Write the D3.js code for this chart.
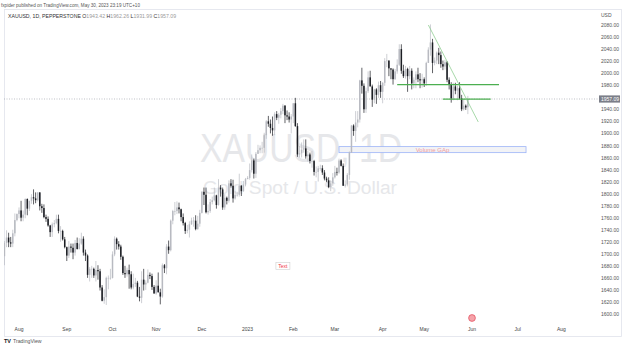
<!DOCTYPE html>
<html>
<head>
<meta charset="utf-8">
<script src="https://cdn.jsdelivr.net/npm/d3@7"></script>
<style>
  body { margin: 0; background: #fff; }
  svg { display: block; font-family: "Liberation Sans", Arial, sans-serif; }
</style>
</head>
<body>
<div id="chart"></div>
<script>
// XAUUSD daily candles, 21 Jul 2022 .. 30 May 2023 (one value per weekday)
const open = [
  1696,1718,1727,1719,1717,1734,1756,
  1766,1772,1760,1765,1791,1775,1788,1794,1792,1789,1802,1779,1776,1761,1758,1747,1736,1749,1751,1758,1738,1738,1724,
  1711,1697,1712,1710,1702,1718,1708,1717,1725,1702,1697,1665,1675,1675,1664,1673,1671,1644,1622,1628,1660,1660,
  1660,1699,1725,1716,1712,1695,1668,1666,1673,1666,1644,1650,1652,1629,1627,1657,1649,1652,1665,1663,1645,
  1634,1647,1636,1629,1681,1676,1712,1706,1755,1771,1771,1777,1774,1761,1751,1738,1740,1749,1755,1755,1741,1750,
  1768,1803,1798,1769,1771,1786,1789,1797,1781,1810,1807,1777,1793,1788,1817,1813,1792,1798,1798,1813,1804,1815,
  1824,1826,1839,1855,1833,1866,1872,1876,1876,1897,1920,1916,1909,1905,1932,1926,1931,1937,1946,1930,1928,1923,
  1928,1950,1912,1865,1867,1873,1875,1862,1865,1854,1854,1836,1836,1842,1842,1835,1825,1822,1811,1817,
  1827,1836,1835,1855,1846,1813,1815,1831,1868,1913,1904,1918,1923,1988,1979,1940,1970,1993,1978,1956,1973,1964,1980,
  1969,1984,2020,2021,2008,2006,1990,2003,2014,2040,2004,1995,2007,1995,2004,1983,1989,1998,1990,1988,
  1990,1983,2017,2039,2051,2017,2021,2034,2030,2015,2011,2018,1989,1982,1958,1978,1971,1975,1958,1940,1946,1943.42
];
const high = [
  1721,1739,1735,1728,1740,1767,1767,
  1777,1788,1772,1792,1792,1788,1799,1807,1802,1802,1802,1783,1782,1765,1762,1748,1752,1756,1765,1765,1746,1740,1728,
  1712,1721,1717,1717,1723,1727,1726,1735,1729,1707,1699,1678,1680,1677,1688,1681,1675,1648,1641,1662,1664,1675,
  1704,1729,1727,1721,1715,1697,1680,1677,1682,1671,1667,1660,1655,1645,1671,1675,1656,1674,1669,1667,1648,
  1656,1669,1642,1684,1683,1716,1722,1757,1773,1786,1787,1785,1775,1767,1753,1748,1754,1760,1761,1764,1763,1773,
  1804,1810,1810,1782,1791,1795,1810,1798,1824,1814,1810,1799,1795,1822,1824,1823,1804,1803,1833,1814,1821,1826,
  1829,1850,1865,1858,1869,1881,1880,1886,1901,1922,1929,1923,1928,1935,1937,1934,1942,1949,1947,1938,1935,1932,
  1950,1959,1917,1879,1885,1890,1890,1871,1868,1871,1856,1845,1846,1848,1847,1839,1828,1827,1822,1834,
  1846,1843,1858,1857,1850,1822,1834,1870,1914,1915,1937,1937,1989,2009,1983,1976,2003,2004,1981,1974,1975,1986,1987,
  1985,2025,2032,2021,2008,2008,2007,2023,2048,2048,2014,2012,2009,2012,2008,1993,2003,2009,2000,1999,
  1993,2019,2043,2081,2057,2026,2036,2042,2036,2021,2022,2020,1993,1985,1984,1984,1979,1985,1964,1957,1948,1962.26
];
const low = [
  1681,1711,1711,1711,1711,1729,1754,
  1759,1754,1754,1759,1764,1771,1783,1782,1784,1787,1772,1768,1759,1753,1745,1728,1728,1744,1749,1734,1720,1722,1709,
  1688,1693,1702,1691,1697,1707,1707,1715,1697,1688,1660,1654,1660,1660,1654,1657,1639,1621,1617,1615,1641,1657,
  1659,1696,1707,1707,1690,1665,1660,1662,1642,1641,1641,1645,1628,1621,1618,1639,1640,1651,1658,1640,1634,
  1632,1636,1616,1627,1668,1666,1700,1704,1749,1764,1766,1767,1754,1747,1733,1734,1727,1748,1745,1739,1740,1745,
  1767,1781,1767,1765,1768,1782,1787,1775,1780,1795,1773,1773,1782,1785,1810,1785,1790,1795,1795,1796,1803,1812,
  1824,1823,1835,1825,1826,1866,1867,1867,1868,1891,1911,1900,1896,1897,1922,1916,1925,1932,1917,1922,1918,1900,
  1917,1911,1861,1860,1860,1868,1858,1853,1850,1843,1830,1827,1820,1838,1831,1822,1819,1809,1804,1813,
  1825,1830,1833,1845,1813,1810,1812,1823,1868,1896,1886,1910,1918,1966,1934,1934,1967,1978,1944,1950,1949,1959,1959,
  1950,1979,2010,1995,1990,1981,1989,1999,2012,1999,1992,1991,1969,1990,1973,1975,1975,1985,1975,1976,
  1977,1979,2017,2029,2000,2013,2015,2015,2009,2005,2006,1985,1973,1951,1955,1965,1955,1957,1937,1938,1939,1931.99
];
const close = [
  1718,1727,1719,1717,1734,1756,1766,
  1772,1760,1765,1791,1775,1788,1794,1792,1789,1802,1779,1776,1761,1758,1747,1736,1749,1751,1758,1738,1738,1724,1711,
  1697,1712,1710,1702,1718,1708,1717,1725,1702,1697,1665,1675,1675,1664,1673,1671,1644,1622,1628,1660,1660,1660,
  1699,1725,1716,1712,1695,1668,1666,1673,1666,1644,1650,1652,1629,1627,1657,1649,1652,1665,1663,1645,1634,
  1647,1636,1629,1681,1676,1712,1706,1755,1771,1771,1777,1774,1761,1751,1738,1740,1749,1755,1755,1741,1750,1768,
  1803,1798,1769,1771,1786,1789,1797,1781,1810,1807,1777,1793,1788,1817,1813,1792,1798,1798,1813,1804,1815,1824,
  1826,1839,1855,1833,1866,1872,1876,1876,1897,1920,1916,1909,1905,1932,1926,1931,1937,1946,1930,1928,1923,1928,
  1950,1912,1865,1867,1873,1875,1862,1865,1854,1854,1836,1836,1842,1842,1835,1825,1822,1811,1817,1827,
  1836,1835,1855,1846,1813,1815,1831,1868,1913,1904,1918,1923,1988,1979,1940,1970,1993,1978,1956,1973,1964,1980,1969,
  1984,2020,2021,2008,2006,1990,2003,2014,2040,2004,1995,2007,1995,2004,1983,1989,1998,1990,1988,1990,
  1983,2017,2039,2051,2017,2021,2034,2030,2015,2011,2018,1989,1982,1958,1978,1971,1975,1958,1940,1946,1943,1957.09
];

const priceTicks = [1600,1620,1640,1660,1680,1700,1720,1740,1760,1780,1800,1820,1840,
  1860,1880,1900,1920,1940,1960,1980,2000,2020,2040,2060,2080];
const monthLabels = ['Aug','Sep','Oct','Nov','Dec','2023','Feb','Mar','Apr','May','Jun','Jul','Aug'];
const lastPrice = 1957.09;

// drawings on the chart
const levels = [
  {from: new Date(2023, 3, 12), to: new Date(2023, 5, 20), price: 1981},
  {from: new Date(2023, 4, 12), to: new Date(2023, 5, 14), price: 1957}
];
const trend = {from: new Date(2023, 4, 3), p1: 2080, to: new Date(2023, 5, 6), p2: 1919};
const gap = {from: new Date(2023, 2, 3), to: new Date(2023, 6, 7), top: 1878, bottom: 1868, label: 'Volume GAp'};
const note = {date: new Date(2023, 0, 25), price: 1680, label: 'Text'};

const W = 625, H = 347;
const plot = {left: 4, right: 598, top: 10, bottom: 322};

const svg = d3.select('#chart').append('svg')
  .attr('width', W)
  .attr('height', H);

// weekdays from first bar to the end of the time scale
const days = d3.timeDay.range(new Date(2022, 6, 21), new Date(2023, 8, 1))
  .filter(d => d.getDay() !== 0 && d.getDay() !== 6);

const step = 2.078;
const x0 = 19 - 7.5 * step; // 1 Aug 2022 bar sits under the "Aug" label
const x = d3.scaleBand()
  .domain(days)
  .range([x0, x0 + days.length * step])
  .padding(0);
const cx = d => x(d) + x.bandwidth() / 2;

const y = d3.scaleLinear()
  .domain([1600, 2080])
  .range([314, 25]);

const candles = close.map((c, i) => ({date: days[i], o: open[i], h: high[i], l: low[i], c: c}));

svg.append('defs').append('clipPath').attr('id', 'plot')
  .append('rect')
  .attr('x', plot.left).attr('y', plot.top)
  .attr('width', plot.right - plot.left).attr('height', plot.bottom - plot.top);

// header
svg.append('text')
  .attr('x', 1).attr('y', 7)
  .attr('font-size', 4.6).attr('fill', '#555')
  .text('fxpider published on TradingView.com, May 30, 2023 23:19 UTC+10');

// frame
svg.append('rect')
  .attr('x', 4.5).attr('y', 9.5)
  .attr('width', 617).attr('height', 327)
  .attr('fill', 'none').attr('stroke', '#e0e3eb').attr('stroke-width', 0.8);

// watermark
svg.append('text')
  .attr('x', 301).attr('y', 162)
  .attr('text-anchor', 'middle')
  .attr('font-size', 40)
  .attr('textLength', 202).attr('lengthAdjust', 'spacingAndGlyphs')
  .attr('fill', '#e6e7ea')
  .text('XAUUSD, 1D');
svg.append('text')
  .attr('x', 300).attr('y', 194)
  .attr('text-anchor', 'middle')
  .attr('font-size', 18)
  .attr('textLength', 194).attr('lengthAdjust', 'spacingAndGlyphs')
  .attr('fill', '#e6e7ea')
  .text('Gold Spot / U.S. Dollar');

// title with OHLC of last bar
const title = svg.append('text')
  .attr('x', 8).attr('y', 18)
  .attr('font-size', 5.2).attr('fill', '#333');
title.append('tspan').text('XAUUSD, 1D, PEPPERSTONE ');
const last = candles[candles.length - 1];
[['O', last.o], ['H', last.h], ['L', last.l], ['C', last.c]].forEach(([k, v]) => {
  title.append('tspan').attr('fill', '#333').text(' ' + k);
  title.append('tspan').attr('fill', '#9a9a9a').text(d3.format('.2f')(v));
});

const g = svg.append('g').attr('clip-path', 'url(#plot)');

// volume gap box
g.append('rect')
  .attr('x', cx(gap.from)).attr('y', y(gap.top))
  .attr('width', cx(gap.to) - cx(gap.from))
  .attr('height', y(gap.bottom) - y(gap.top))
  .attr('fill', '#f2f3f6').attr('stroke', '#9db4f7').attr('stroke-width', 0.8);
g.append('text')
  .attr('x', (cx(gap.from) + cx(gap.to)) / 2)
  .attr('y', (y(gap.top) + y(gap.bottom)) / 2 + 2)
  .attr('text-anchor', 'middle')
  .attr('font-size', 6).attr('fill', '#f09ba0')
  .text(gap.label);

// last price dotted line
g.append('line')
  .attr('x1', plot.left).attr('x2', plot.right)
  .attr('y1', y(lastPrice)).attr('y2', y(lastPrice))
  .attr('stroke', '#9598a1').attr('stroke-width', 0.6)
  .attr('stroke-dasharray', '1,1.5');

// candles
const up = '#b8bac1', down = '#1c1e24';
g.selectAll('line.wick').data(candles).join('line')
  .attr('class', 'wick')
  .attr('x1', d => cx(d.date)).attr('x2', d => cx(d.date))
  .attr('y1', d => y(d.h)).attr('y2', d => y(d.l))
  .attr('stroke', d => d.c >= d.o ? up : down)
  .attr('stroke-width', 0.7);
const bodyW = 1.5;
g.selectAll('rect.body').data(candles).join('rect')
  .attr('class', 'body')
  .attr('x', d => cx(d.date) - bodyW / 2)
  .attr('y', d => y(Math.max(d.o, d.c)))
  .attr('width', bodyW)
  .attr('height', d => Math.max(0.6, Math.abs(y(d.o) - y(d.c))))
  .attr('fill', d => d.c >= d.o ? up : down);

// horizontal levels and trend line
g.selectAll('line.level').data(levels).join('line')
  .attr('class', 'level')
  .attr('x1', d => cx(d.from)).attr('x2', d => cx(d.to))
  .attr('y1', d => y(d.price)).attr('y2', d => y(d.price))
  .attr('stroke', '#4caf50').attr('stroke-width', 1.2);
g.append('line')
  .attr('x1', cx(trend.from)).attr('y1', y(trend.p1))
  .attr('x2', cx(trend.to)).attr('y2', y(trend.p2))
  .attr('stroke', '#81c784').attr('stroke-width', 0.7);

// "Text" note
const nx = cx(note.date), ny = y(note.price);
g.append('rect')
  .attr('x', nx - 7).attr('y', ny - 3.5)
  .attr('width', 14).attr('height', 7)
  .attr('fill', '#fff').attr('stroke', '#cfcfcf').attr('stroke-width', 0.6);
g.append('text')
  .attr('x', nx).attr('y', ny + 1.8)
  .attr('text-anchor', 'middle')
  .attr('font-size', 5).attr('fill', '#f23645')
  .text(note.label);

// price axis
const tagY = y(lastPrice);
const yAxis = svg.append('g')
  .attr('transform', `translate(${plot.right},0)`)
  .call(d3.axisRight(y)
    .tickValues(priceTicks.filter(p => Math.abs(y(p) - tagY) > 6))
    .tickFormat(d3.format('.2f'))
    .tickSize(0).tickPadding(3));
yAxis.select('.domain').remove();
yAxis.selectAll('text').attr('font-size', 5).attr('fill', '#555').attr('font-family', null);

svg.append('text')
  .attr('x', 601).attr('y', 17)
  .attr('font-size', 5).attr('fill', '#555')
  .text('USD');

svg.append('rect')
  .attr('x', 599).attr('y', tagY - 3.6)
  .attr('width', 21).attr('height', 7.2)
  .attr('fill', '#7b7e88');
svg.append('text')
  .attr('x', 601).attr('y', tagY + 1.8)
  .attr('font-size', 5).attr('fill', '#fff')
  .text(d3.format('.2f')(lastPrice));

// time axis
const monthStarts = days.filter((d, i) => i > 0 && d.getMonth() !== days[i - 1].getMonth());
const xAxis = svg.append('g')
  .attr('transform', 'translate(0,325)')
  .call(d3.axisBottom(x)
    .tickValues(monthStarts)
    .tickFormat((d, i) => monthLabels[i])
    .tickSize(0).tickPadding(2));
xAxis.select('.domain').remove();
xAxis.selectAll('text').attr('font-size', 5).attr('fill', '#444').attr('font-family', null);

// economic event marker
svg.append('circle')
  .attr('cx', cx(new Date(2023, 5, 1))).attr('cy', 318)
  .attr('r', 3.4)
  .attr('fill', '#f5a3a9').attr('stroke', '#e2495a').attr('stroke-width', 0.7);

// logo
svg.append('text')
  .attr('x', 4).attr('y', 343)
  .attr('font-size', 5.5).attr('font-weight', 'bold').attr('fill', '#131722')
  .text('TV');
svg.append('text')
  .attr('x', 13).attr('y', 343)
  .attr('font-size', 5.2).attr('fill', '#555')
  .text('TradingView');
</script>
</body>
</html>
